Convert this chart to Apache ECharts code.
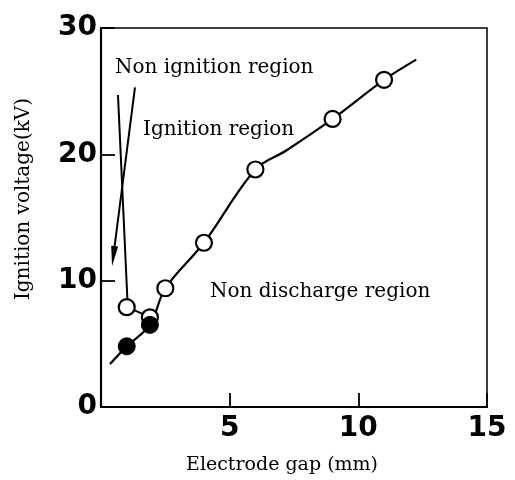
<!DOCTYPE html>
<html>
<head>
<meta charset="utf-8">
<script src="https://cdn.jsdelivr.net/npm/echarts@6/dist/echarts.min.js"></script>
<style>html,body{margin:0;padding:0;background:#fff;}#c{width:515px;height:480px;}</style>
</head>
<body>
<div id="c"></div>
<script>
// Data
const openX = [1.0, 1.9, 2.5, 4.0, 6.0, 9.0, 11.0];
const openY = [7.9, 7.1, 9.4, 13.0, 18.8, 22.8, 25.9];
const filledX = [1.0, 1.9];
const filledY = [4.8, 6.5];
const curveX = [0.35, 1.0, 1.9, 2.5, 4.0, 6.0, 7.2, 9.0, 11.0, 12.25];
const curveY = [3.4, 4.8, 6.5, 9.4, 13.0, 18.8, 20.3, 22.8, 25.9, 27.5];
const boundX = [0.66, 1.04, 1.9];
const boundY = [24.7, 7.9, 7.1];
const arrowX = [1.32, 0.48];
const arrowY = [25.3, 11.95];
const xTicks = [0, 5, 10, 15];
const yTicks = [0, 10, 20, 30];
const regionLabels = ['Non ignition region', 'Ignition region', 'Non discharge region'];
const xTitle = 'Electrode gap (mm)';
const yTitle = 'Ignition voltage(kV)';

const zip = (a, b) => a.map((v, i) => [v, b[i]]);
const serif = '"DejaVu Serif", serif';
const chart = echarts.init(document.getElementById('c'), null, {renderer: 'canvas'});
chart.setOption({
  animation: false,
  backgroundColor: '#fff',
  grid: {left: 101, right: 28, top: 28, bottom: 73, show: true, borderColor: '#000', borderWidth: 1.5, backgroundColor: 'transparent'},
  xAxis: {
    type: 'value', min: xTicks[0], max: xTicks[xTicks.length - 1], interval: 5,
    axisLine: {lineStyle: {color: '#000', width: 2.2}},
    axisTick: {inside: true, length: 14, lineStyle: {color: '#000', width: 1.8}},
    splitLine: {show: false},
    axisLabel: {color: '#000', fontFamily: '"DejaVu Sans", sans-serif', fontWeight: 'bold', fontSize: 28, margin: 8,
      formatter: v => (v === 0 ? '' : String(v))}
  },
  yAxis: {
    type: 'value', min: yTicks[0], max: yTicks[yTicks.length - 1], interval: 10,
    axisLine: {lineStyle: {color: '#000', width: 2.2}},
    axisTick: {inside: true, length: 14, lineStyle: {color: '#000', width: 1.8}},
    splitLine: {show: false},
    axisLabel: {color: '#000', fontFamily: '"DejaVu Sans", sans-serif', fontWeight: 'bold', fontSize: 28, margin: 4, padding: [0, 0, 6, 0]}
  },
  series: [
    {type: 'line', data: zip(curveX, curveY), smooth: 0.35, symbol: 'none', lineStyle: {color: '#000', width: 2.2}, z: 2},
    {type: 'line', data: zip(boundX, boundY), symbol: 'none', lineStyle: {color: '#000', width: 2}, z: 2},
    {type: 'line', data: zip(arrowX, arrowY), symbol: 'none', lineStyle: {color: '#000', width: 2}, z: 2},
    {type: 'scatter', data: [[arrowX[1], arrowY[1]]], symbol: 'triangle', symbolSize: [7, 20], symbolRotate: 172.5,
      itemStyle: {color: '#000', opacity: 1}, z: 3},
    {type: 'scatter', data: zip(openX, openY), symbol: 'circle', symbolSize: 16,
      itemStyle: {color: '#fff', borderColor: '#000', borderWidth: 2.2, opacity: 1}, z: 5},
    {type: 'scatter', data: zip(filledX, filledY), symbol: 'circle', symbolSize: 17,
      itemStyle: {color: '#000', borderColor: '#000', borderWidth: 1, opacity: 1}, z: 6}
  ],
  graphic: [
    {type: 'text', x: 115, y: 68, style: {text: regionLabels[0], font: '20px ' + serif, fill: '#000', verticalAlign: 'middle'}},
    {type: 'text', x: 143, y: 130, style: {text: regionLabels[1], font: '20px ' + serif, fill: '#000', verticalAlign: 'middle'}},
    {type: 'text', x: 210, y: 292, style: {text: regionLabels[2], font: '20px ' + serif, fill: '#000', verticalAlign: 'middle'}},
    {type: 'text', x: 282, y: 465, style: {text: xTitle, font: '19px ' + serif, fill: '#000', align: 'center', verticalAlign: 'middle'}},
    {type: 'text', x: 24, y: 199, rotation: Math.PI / 2, style: {text: yTitle, font: '20px ' + serif, fill: '#000', align: 'center', verticalAlign: 'middle'}}
  ]
});
</script>
</body>
</html>
